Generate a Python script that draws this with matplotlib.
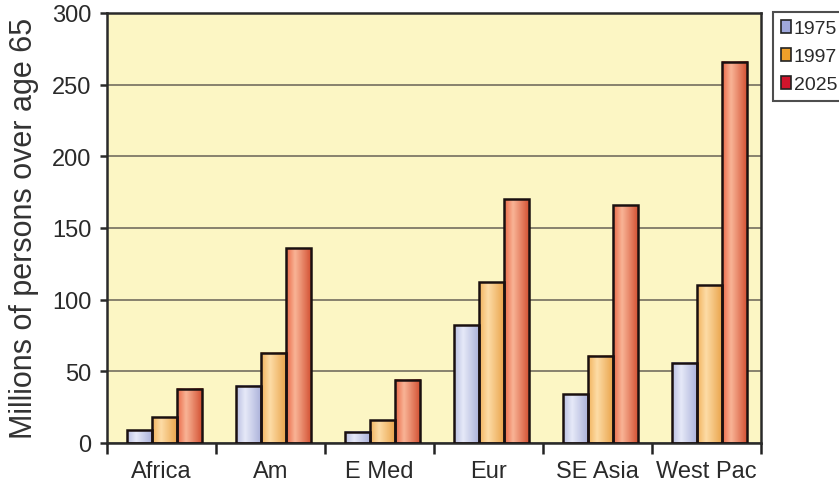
import numpy as np
import matplotlib.pyplot as plt
from matplotlib.patches import Patch
from matplotlib.colors import LinearSegmentedColormap

plt.rcParams['font.family'] = ['Liberation Sans', 'DejaVu Sans']

# Population over 65 by WHO region (millions)
regions = ['Africa', 'Am', 'E Med', 'Eur', 'SE Asia', 'West Pac']
years = ['1975', '1997', '2025']
y1975 = [9, 40, 8, 82, 34, 56]
y1997 = [18, 63, 16, 112, 61, 110]
y2025 = [38, 136, 44, 170, 166, 266]

# shaded bar colours: (edge tone, highlight tone, dark tone), plus legend swatch
shades = [('#b9bfe2', '#e6e9f8', '#a9b0d9'),
          ('#f2b35e', '#fddca6', '#e9a248'),
          ('#ea6a48', '#f9b496', '#d24e30')]
swatch = ['#9fa8dc', '#f0a02a', '#d0142c']

fig = plt.figure(figsize=(8.39, 5.02), dpi=100)
ax = fig.add_axes([107/839, 1 - 444/502, (761 - 107)/839, (444 - 14)/502])
ax.set_facecolor('#fcf6c4')

x = np.arange(len(regions))
w = 0.23

for i, vals in enumerate([y1975, y1997, y2025]):
    cm = LinearSegmentedColormap.from_list('b%d' % i,
                                           [(0, shades[i][0]), (0.35, shades[i][1]), (1, shades[i][2])])
    bars = ax.bar(x + (i - 1) * w + 0.03, vals, w, facecolor='none',
                  edgecolor='#1a1010', linewidth=1.8, zorder=3)
    for b in bars:
        x0 = b.get_x()
        ax.imshow(np.linspace(0, 1, 50)[None, :], cmap=cm, aspect='auto',
                  extent=[x0, x0 + b.get_width(), 0, b.get_height()],
                  zorder=2, interpolation='bilinear')

ax.set_xlim(-0.5, len(regions) - 0.5)
ax.set_ylim(0, 300)
ax.set_yticks(np.arange(0, 301, 50))
ax.yaxis.grid(True, color='#7e7866', linewidth=1.3)
ax.set_axisbelow(True)

ax.set_xticks(x)
ax.set_xticklabels(regions)
ax.set_xticks(np.arange(-0.5, len(regions), 1), minor=True)
ax.tick_params(axis='x', which='major', length=0, pad=12, labelsize=17, colors='#2a2a2a')
ax.tick_params(axis='x', which='minor', length=8, width=1.8, color='#222222')
ax.tick_params(axis='y', length=5, width=1.8, pad=6, labelsize=17, colors='#2a2a2a')
for s in ax.spines.values():
    s.set_color('#2a2a2a')
    s.set_linewidth(1.8)

fig.text(0.029, 0.545, 'Millions of persons over age 65', rotation=90,
         ha='center', va='center', fontsize=22, color='#333333')

handles = [Patch(facecolor=c, edgecolor='#222222', linewidth=1.2) for c in swatch]
leg = ax.legend(handles, years, loc='upper left', bbox_to_anchor=(773/839, 1 - 13/502),
                bbox_transform=fig.transFigure, frameon=True, fancybox=False,
                fontsize=14, handlelength=0.55, handleheight=0.65, handletextpad=0.12,
                labelspacing=0.55, borderpad=0.4, borderaxespad=0)
leg.get_frame().set_edgecolor('#222222')
leg.get_frame().set_linewidth(1.5)
for t in leg.get_texts():
    t.set_color('#2a2a2a')

fig.savefig('out.png', dpi=100)
